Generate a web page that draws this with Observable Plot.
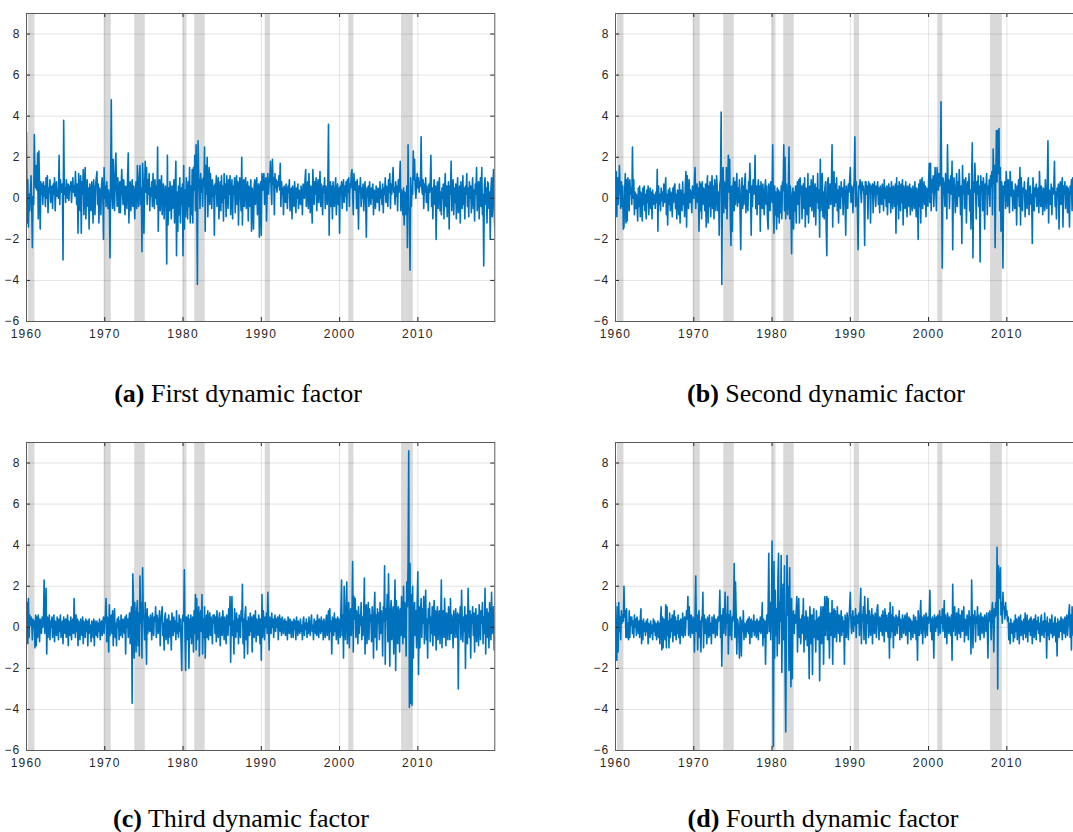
<!DOCTYPE html>
<html>
<head>
<meta charset="utf-8">
<script src="https://cdn.jsdelivr.net/npm/d3@7"></script>
<script src="https://cdn.jsdelivr.net/npm/@observablehq/plot@0.6"></script>
<style>
html, body { margin: 0; padding: 0; background: #fff; }
body { width: 1073px; height: 832px; overflow: hidden; position: relative; }
.panel { position: absolute; width: 500px; height: 340px; }
.panel svg { max-width: none !important; }
.panel svg text { letter-spacing: 1.2px; }
.cap { position: absolute; width: 420px; text-align: center; font-family: "Liberation Serif", "Times New Roman", serif; font-size: 26px; line-height: 26px; color: #000; white-space: nowrap; }
.cap b { font-weight: bold; }
</style>
</head>
<body>
<script>
const startYear = 1960;
const xDomainEnd = 2019.83;
const yearTicks = [1960, 1970, 1980, 1990, 2000, 2010];
const valueTicks = [-6, -4, -2, 0, 2, 4, 6, 8];
const recessionStart = [1960.25, 1969.92, 1973.83, 1980.0, 1981.5, 1990.5, 2001.17, 2007.92];
const recessionEnd   = [1961.08, 1970.83, 1975.17, 1980.5, 1982.83, 1991.17, 2001.83, 2009.42];
const captions = [["(a)", "First dynamic factor"], ["(b)", "Second dynamic factor"], ["(c)", "Third dynamic factor"], ["(d)", "Fourth dynamic factor"]];

const factor1 = [
3.2,-1.2,0.9,-1.4,0.2,-0.6,0.3,1.1,-0.4,-2.4,0.1,-0.3,
3.1,1.2,0.5,1.6,0.4,2.2,-1.0,2.3,0.6,-1.5,0.8,0.2,
0.7,-0.3,0.8,0.1,0.6,-0.4,1.0,0.0,1.1,-0.7,0.5,0.3,
0.9,-0.2,0.4,0.6,-0.5,0.7,0.2,1.0,-0.6,0.5,0.8,0.1,
0.4,0.0,2.1,-0.3,0.9,0.4,0.3,0.7,-3.0,3.8,0.2,0.5,
-0.2,0.9,0.5,0.0,0.7,-0.1,0.6,0.4,0.8,-0.2,0.5,1.0,
0.3,0.6,0.1,1.3,0.5,-0.3,0.7,-1.7,1.2,0.4,-0.6,1.1,
-1.7,0.8,0.2,1.4,-0.8,0.6,1.5,-1.0,0.3,0.9,-0.4,0.5,
-1.5,0.7,0.2,-0.6,0.8,0.4,-1.2,0.9,0.1,-0.8,0.6,1.0,
1.3,-0.3,0.7,-1.2,0.5,0.2,-0.8,0.6,1.0,0.3,-2.0,1.5,
0.0,0.6,-0.4,0.8,0.2,-0.5,0.4,-0.2,-2.9,1.0,4.8,0.2,
-0.5,1.9,0.3,-0.6,1.2,2.2,0.5,-0.4,1.0,0.2,-0.7,0.8,
-0.7,0.4,1.4,0.5,-0.3,0.9,0.2,-0.8,0.6,0.3,-0.5,1.0,
2.2,-1.2,0.4,0.8,-0.6,0.3,0.9,-0.4,0.6,0.2,-1.0,0.5,
0.8,-0.5,1.6,0.2,-0.4,1.0,1.6,-0.3,0.5,-2.6,1.7,0.6,
-1.7,0.4,1.8,0.3,1.5,-0.3,0.9,0.2,1.2,-0.6,0.5,0.1,
0.8,-0.4,1.2,0.3,-0.5,0.9,0.0,0.6,-0.3,2.5,-1.6,0.4,
0.9,-0.6,0.5,1.1,-0.8,0.3,0.7,-1.0,0.2,0.6,-0.4,-3.2,
2.1,-1.3,0.5,-0.6,0.8,0.0,-1.0,0.6,-0.5,0.2,0.9,-1.2,
0.4,1.8,-2.8,0.3,-1.6,0.6,-0.8,1.0,-1.2,0.5,-0.3,0.7,
-2.8,1.6,-1.5,0.4,-0.9,1.0,0.2,-1.0,0.8,-0.4,1.5,-1.2,
0.6,-0.8,1.4,-1.2,1.5,0.4,2.1,-0.6,2.6,0.2,-4.2,2.8,
1.0,0.8,-0.5,1.2,0.3,0.9,-0.4,1.0,0.6,2.5,-1.6,1.6,
0.2,2.0,-0.9,0.8,1.5,-0.3,1.2,0.4,-0.5,0.9,0.1,0.6,
-1.8,0.7,0.2,1.1,-0.4,0.5,1.0,-1.0,0.3,0.8,-0.6,1.1,
-0.2,0.6,-1.1,1.2,0.0,0.7,-0.9,1.1,0.3,-0.5,0.9,0.2,
1.1,-0.8,0.4,0.9,-1.0,0.6,0.2,1.0,-0.7,0.5,1.1,-0.3,
0.8,-1.3,0.4,1.0,0.2,-0.6,2.0,-1.3,0.5,0.9,-0.4,0.7,
1.0,-0.5,0.3,0.8,-1.1,0.6,0.1,-0.4,0.9,-1.6,0.5,0.2,
-1.5,0.6,0.9,-0.3,0.5,1.0,-0.8,0.4,0.7,-1.9,0.3,0.8,
-1.8,1.2,0.4,0.8,1.2,-0.3,0.6,1.0,-1.1,0.5,1.2,0.2,
0.8,1.0,1.8,0.4,-0.3,1.9,0.7,1.0,-0.8,1.2,0.5,0.9,
0.3,0.8,0.6,1.1,0.4,1.7,-0.4,0.8,0.2,0.5,-0.8,0.6,
0.4,-0.2,0.7,0.1,-0.5,0.6,0.3,0.9,-0.6,0.2,0.5,-1.0,
0.6,0.1,-0.4,0.8,0.2,-0.7,0.5,0.0,0.7,-0.5,0.4,0.2,
-0.3,0.6,0.2,-0.8,0.7,0.4,0.0,0.9,1.4,-0.4,0.3,0.8,
-0.5,1.2,0.3,-0.7,0.6,0.1,-1.2,1.4,0.5,-0.3,0.8,0.2,
1.0,-0.6,0.4,0.9,-0.2,0.5,1.3,-0.4,0.7,0.2,-0.8,0.6,
0.3,1.0,-0.5,0.6,0.1,-0.3,0.8,3.6,-1.8,0.5,0.8,-0.4,
0.6,-1.0,0.8,0.2,-0.4,0.5,1.0,-0.8,0.3,0.7,-0.3,0.5,
-1.7,0.6,0.2,0.8,-0.5,0.4,0.9,-0.2,0.6,0.1,0.8,-0.6,
0.9,0.3,1.0,-0.4,0.7,0.5,1.2,1.4,0.2,-0.8,1.2,0.6,
0.4,0.8,-0.5,0.9,0.2,-1.5,0.6,0.3,1.0,-0.4,0.5,0.0,
0.7,-0.6,0.3,0.8,-0.2,-1.9,0.5,0.1,0.6,-0.4,0.8,0.2,
-0.3,0.5,0.0,0.7,-0.8,0.4,0.2,-0.5,0.6,0.1,-0.2,0.5,
0.3,-0.6,0.8,0.0,0.4,-0.3,0.7,-0.7,0.5,0.2,1.0,-0.2,
0.6,0.1,-0.4,0.9,0.3,1.2,-0.5,0.7,0.2,0.8,1.5,0.3,
0.5,-0.3,0.8,0.1,0.6,-0.6,0.9,0.3,1.0,1.8,-0.6,0.4,
0.2,-0.8,0.5,-1.3,0.3,0.0,-0.8,0.6,-2.4,2.6,-0.5,-0.6,
-3.5,1.0,-0.4,0.6,0.2,2.3,0.9,1.9,0.4,0.0,0.8,1.2,
0.5,1.0,0.3,0.8,0.6,3.0,0.5,0.2,0.9,-0.5,0.7,0.3,
1.0,-0.2,0.6,0.1,-0.6,0.7,0.3,0.8,2.1,-0.4,0.5,-1.0,
0.4,0.9,-0.3,0.6,-2.0,0.2,0.8,-0.5,0.4,1.0,-0.6,0.3,
-0.8,0.5,0.0,0.7,-1.0,0.4,1.2,-0.4,0.6,-0.9,0.3,0.8,
-1.5,0.6,0.2,1.8,-0.6,0.3,0.9,-0.8,0.5,-0.2,0.7,-1.0,
0.4,1.0,-0.7,0.2,0.6,-1.2,0.8,0.1,-0.5,1.1,-0.3,0.5,
-1.0,0.6,0.2,1.2,-0.4,0.5,-0.9,0.8,0.0,0.6,-0.7,0.3,
1.0,-0.5,0.4,-1.1,0.7,0.2,1.5,-0.6,0.3,0.8,-1.0,0.5,
1.0,-0.4,1.5,-0.8,0.2,-3.3,0.6,1.0,-0.3,0.5,-1.2,0.8,
0.7,-0.5,0.3,-2.0,0.4,1.0,-0.9,0.5,1.4,-0.7,-1.5,-0.7
];

const factor2 = [
-0.3,1.3,-0.9,1.0,-0.3,0.5,1.6,0.5,-0.5,0.8,-0.4,0.6,
-1.5,-1.4,0.3,1.2,-1.2,0.9,-1.1,1.0,0.4,-0.6,0.9,0.2,
0.5,-0.3,2.5,0.0,0.9,-0.8,0.3,-0.5,0.2,-0.2,-1.1,0.5,
-0.4,0.6,-0.9,0.3,0.0,-1.1,0.5,-0.3,0.6,-0.6,0.2,-1.0,
0.4,-0.2,0.6,-0.8,0.1,0.5,-0.5,0.3,-1.0,0.4,-0.3,0.2,
0.0,-0.5,0.3,-0.2,1.4,-1.6,0.6,-0.3,0.2,-0.6,0.5,-0.1,
0.3,-0.4,0.7,-0.2,0.4,1.0,-0.8,0.2,-1.3,0.4,-0.3,0.5,
-0.6,0.3,0.1,-0.9,0.5,-0.2,0.6,0.7,-0.5,0.2,-1.0,0.4,
0.3,-0.8,0.7,-1.2,0.4,0.1,-0.6,0.8,-0.3,0.2,-0.9,0.6,
1.3,-1.4,1.1,0.2,-0.5,0.9,-0.2,0.4,0.0,-0.7,0.6,0.3,
0.0,0.8,1.5,-0.5,0.3,0.7,-0.2,0.5,-1.6,0.8,-0.6,0.7,
-1.0,0.8,-0.3,0.5,0.2,-0.6,0.7,-1.4,0.4,1.1,-1.2,0.6,
-0.4,0.8,-0.9,0.3,1.1,-0.5,0.6,-1.0,0.9,0.2,-0.6,1.1,
0.5,-0.6,0.3,-1.8,0.7,0.9,4.2,-4.2,1.0,1.5,-0.7,0.8,
0.4,-0.5,1.5,-1.0,0.6,2.1,0.3,1.9,-0.8,-2.3,0.6,-1.6,
0.4,1.0,-0.6,0.8,-0.3,0.6,1.2,-0.4,0.5,-0.2,0.9,-0.7,
-2.5,0.3,1.0,-0.5,0.6,-0.3,0.8,1.2,-0.7,0.4,0.2,-0.6,
0.8,0.3,1.7,0.5,-1.8,0.6,-0.4,0.9,0.2,0.5,2.1,-0.5,
0.6,-0.8,0.4,0.9,-0.3,0.6,-1.6,0.8,0.2,-0.5,0.7,0.0,
-0.8,0.5,0.9,-0.3,0.6,-1.0,-1.5,0.7,0.3,-0.6,0.8,0.4,
-0.2,2.6,-0.4,-1.7,0.6,-0.8,0.3,-1.5,0.5,-0.9,0.4,-1.2,
0.3,-0.7,0.6,-1.0,0.8,0.4,2.6,-0.6,2.0,-1.0,0.7,0.3,
-0.8,0.5,2.5,-1.0,0.6,-0.4,-2.7,0.2,0.5,-1.5,0.3,-0.6,
0.6,-1.2,0.4,0.8,-0.3,0.9,-1.2,1.0,0.2,0.6,-1.0,0.4,
0.7,-0.5,1.0,-1.4,0.5,0.3,-0.8,1.2,-1.2,0.4,0.6,-0.4,
0.9,-0.6,0.2,1.1,-0.9,0.4,0.7,-1.3,0.5,-0.2,1.2,-0.5,
0.4,-1.9,1.9,-0.6,0.9,1.2,-0.9,0.3,-1.0,0.5,0.8,-1.4,
-2.8,0.8,1.0,-0.5,0.4,0.7,-0.3,0.6,2.6,-1.4,0.9,1.3,
-0.4,0.7,-0.2,1.0,-0.6,0.4,-1.2,0.6,0.3,-0.5,0.8,0.1,
0.5,-0.8,0.4,0.9,-0.3,-1.8,0.6,0.2,-0.5,0.7,0.3,0.9,
1.5,-0.2,0.6,0.4,-0.7,0.5,0.9,3.0,-0.4,0.8,0.2,-0.6,
-2.5,0.6,0.5,0.9,0.3,-0.2,0.8,0.4,0.6,0.1,-2.3,0.8,
0.8,0.2,0.6,-1.0,0.8,0.4,0.7,-1.2,0.6,0.3,0.7,-0.7,
0.5,0.8,0.3,-0.4,0.6,0.2,0.8,-0.3,0.5,-0.7,0.6,0.1,
-0.3,0.7,0.2,-0.6,0.9,0.0,0.5,-0.4,0.6,-0.8,0.3,0.7,
-0.2,0.5,-0.7,0.8,0.1,-0.5,0.6,0.3,-0.4,0.7,-1.7,1.0,
-0.3,0.6,-1.0,0.8,0.2,-0.6,0.7,-0.2,0.9,-1.3,0.6,0.3,
-0.5,0.8,0.1,-0.9,0.6,0.4,-0.4,0.7,-0.8,0.5,0.2,-0.6,
0.6,0.3,-0.5,0.8,0.1,-0.9,0.5,0.2,-2.0,0.7,-0.4,0.9,
-1.2,0.6,1.0,-0.5,0.4,0.8,-0.3,0.6,-0.9,0.5,0.2,-0.4,
0.8,1.7,-0.2,1.7,-0.6,0.9,0.3,1.1,-0.4,0.6,1.5,0.4,
-0.6,1.5,0.9,0.4,1.2,0.6,0.8,4.7,0.3,-3.4,1.0,0.8,
0.5,-0.4,1.2,0.6,-1.0,2.6,0.3,0.9,-0.5,0.7,1.1,0.2,
1.8,-2.5,0.6,1.0,0.3,-0.7,0.5,1.2,-0.4,0.8,0.1,1.4,
0.4,-0.8,0.6,-2.2,1.6,0.2,0.9,-0.5,0.7,1.0,-1.2,0.5,
0.8,0.2,1.2,-0.6,0.4,-1.5,1.0,2.7,-2.9,0.8,0.3,1.7,
0.5,-1.0,0.8,0.2,1.1,-0.4,0.6,-3.1,1.1,0.4,0.8,-0.6,
1.0,0.3,-1.5,0.7,0.5,1.2,-0.8,0.6,0.2,0.9,-0.4,1.1,
0.6,1.3,-0.8,2.4,0.7,1.6,-2.4,1.0,3.3,0.8,3.3,1.2,
3.4,-0.6,1.5,-1.6,0.8,0.4,-3.4,0.6,0.2,0.8,-0.5,1.3,
0.6,-0.4,0.9,0.3,-0.7,1.3,0.5,0.1,0.8,-0.6,0.4,0.2,
-0.5,0.7,0.3,-1.3,0.6,0.1,0.9,-0.4,1.5,-1.3,1.0,0.2,
-0.6,0.5,0.3,0.8,-0.9,0.4,0.1,-0.5,0.7,1.0,-0.8,0.3,
0.6,-0.3,0.2,-2.2,1.0,0.4,-0.6,0.5,0.1,0.7,-0.4,0.3,
0.5,-0.7,1.3,0.2,-0.4,0.6,0.0,-0.8,0.5,0.3,-0.6,0.9,
0.2,-0.5,0.6,2.8,-1.2,0.4,0.1,-0.3,0.7,-0.8,0.5,0.2,
0.6,1.8,-0.4,0.3,-1.0,0.5,0.1,0.7,-1.5,0.4,0.8,-0.3,
0.4,1.0,-1.4,0.6,0.2,0.8,-0.5,0.3,0.6,-0.7,0.5,0.1,
-1.4,0.6,0.2,0.9,-0.6,1.0,0.3,-0.5,0.7,0.2,-0.3,0.6,
0.4,-0.8,1.0,0.2,-0.4,0.6,0.0,0.8,-0.6,0.3,0.5,-0.2
];

const factor3 = [
0.0,1.2,-0.8,1.4,-0.5,0.6,0.1,0.5,0.2,-0.6,0.4,0.0,
0.3,-1.0,0.6,-0.9,0.5,-0.5,0.6,0.2,-0.7,0.4,0.1,-0.3,
0.5,0.0,0.3,2.3,-0.3,0.4,1.9,-1.3,0.5,-0.5,0.2,0.6,
-0.6,0.3,0.0,0.5,-0.5,0.2,0.6,-0.7,0.3,0.1,-0.4,0.5,
0.2,-0.6,0.4,-0.2,0.6,-0.5,0.0,0.3,-0.8,0.5,0.1,-0.3,
0.4,-0.5,0.2,0.6,-0.9,0.3,0.0,-0.4,0.5,-0.6,0.2,0.4,
-0.3,1.4,0.2,-0.5,0.6,-0.2,0.4,-0.9,0.3,0.1,-0.6,0.4,
0.2,-0.4,0.5,-0.8,0.3,0.0,-0.5,0.4,-0.2,0.3,-0.9,0.2,
0.4,-0.3,0.1,-0.7,0.3,0.2,-0.5,0.4,-0.9,0.3,0.0,-0.4,
0.3,-0.5,0.2,-0.2,0.4,-0.6,0.1,0.3,-0.4,0.2,0.5,-0.3,
0.3,0.6,1.4,-0.7,0.5,0.2,-1.2,1.1,-0.4,0.3,0.6,-0.3,
0.8,-0.9,0.3,0.9,-0.5,0.2,-0.9,0.4,0.0,0.5,-0.6,0.3,
-0.4,0.6,0.1,-0.5,0.4,0.2,-0.3,0.5,-1.3,0.6,0.0,0.4,
-0.5,0.3,0.7,-0.8,0.5,1.0,-3.7,2.6,1.4,-1.5,1.2,0.3,
-1.2,0.8,1.3,-0.9,0.7,-1.4,2.5,0.2,1.2,-1.5,2.9,0.6,
0.4,-0.6,1.2,0.0,-1.8,0.9,-0.3,0.5,0.1,-0.2,0.6,0.3,
-0.6,0.7,0.2,-0.4,0.5,0.3,1.0,-0.5,0.6,0.2,-0.3,0.4,
0.8,-0.9,0.3,0.6,1.0,-0.4,0.2,-1.1,0.5,0.7,-0.6,0.1,
0.4,-0.8,0.6,0.0,-0.5,0.3,-1.1,0.7,0.2,-0.4,0.5,-0.2,
0.3,-0.6,0.8,-0.3,0.2,-0.5,0.6,-0.2,0.4,-0.8,-2.1,0.4,
0.6,0.3,2.8,-0.4,-2.1,0.5,-0.6,0.3,0.6,-2.0,0.4,-0.5,
0.6,-0.8,0.3,0.5,-1.2,0.8,-0.3,1.6,-1.1,1.4,-0.6,0.3,
1.0,-1.4,0.5,0.8,-0.2,1.6,-1.3,0.4,-0.5,1.0,-1.5,0.2,
0.6,-0.5,0.8,-0.6,0.3,0.7,-0.4,0.5,0.0,-0.8,0.6,0.2,
0.6,-0.3,0.5,-0.7,0.8,0.1,-0.5,0.4,0.7,-0.9,0.3,0.5,
-0.4,0.8,0.2,-0.6,0.5,0.0,-0.8,0.6,0.3,-0.4,0.9,0.1,
1.5,-1.7,0.6,1.5,-0.4,0.3,-1.3,0.9,0.2,-0.5,0.7,-0.2,
0.4,-0.8,0.6,0.1,-0.5,0.8,0.3,2.1,-0.8,0.4,-1.5,0.6,
1.0,-0.6,0.3,-1.3,0.5,0.2,-0.4,0.7,-0.2,0.5,-1.2,0.3,
0.6,-0.5,0.2,0.8,-0.7,0.4,0.0,-0.4,0.6,0.3,-0.8,0.4,
-1.6,1.6,-0.5,0.8,0.2,-0.6,0.5,0.0,0.7,-0.3,1.7,0.4,
-1.1,0.5,0.2,-0.3,0.7,0.0,0.4,-0.5,0.3,0.6,-0.2,0.4,
0.0,0.5,-0.6,0.3,0.6,-0.2,0.4,-0.4,0.5,0.2,-0.3,0.3,
0.4,-0.4,0.3,0.1,-0.6,0.5,0.2,-0.3,0.4,0.0,-0.5,0.3,
0.2,-0.5,0.4,-0.1,0.3,-0.6,0.5,0.1,-0.4,0.3,0.0,-0.3,
0.4,-0.2,0.1,-0.6,0.3,0.5,-0.4,0.2,-0.1,0.4,-0.5,0.2,
-0.3,0.5,0.0,-0.4,0.3,0.6,-0.2,0.1,-0.6,0.4,0.2,-0.3,
0.3,-0.4,0.6,0.0,-0.5,0.4,0.1,-0.3,0.5,-0.2,0.3,-0.6,
0.4,0.0,-0.5,0.3,0.6,-0.4,0.2,0.8,-0.6,0.9,-0.2,0.3,
-1.3,0.5,0.2,-0.4,0.7,-0.2,0.4,-0.6,0.3,0.5,-0.8,0.4,
0.2,-0.5,0.8,2.3,-0.4,0.6,-1.5,2.0,0.3,-0.6,1.0,2.2,
-0.8,0.6,1.2,-1.0,0.5,0.9,-0.4,0.6,3.2,-1.2,1.5,0.4,
1.4,-0.5,0.8,0.2,-0.8,1.0,-0.3,0.6,0.1,1.2,-0.6,0.5,
-0.4,0.8,2.4,-1.3,0.6,1.1,-0.8,0.5,1.2,-0.6,0.9,0.3,
0.6,-0.7,1.0,0.4,-1.5,0.8,1.7,-0.5,0.6,-1.1,0.9,0.2,
0.7,-0.6,1.2,-0.3,0.8,0.4,-1.4,1.0,0.3,3.0,-1.8,0.9,
0.4,1.6,-0.7,2.6,0.5,-1.9,0.8,1.3,-0.6,0.4,1.0,-1.3,
0.6,2.3,-2.1,1.3,0.2,-0.8,1.0,0.5,-1.2,0.9,-0.4,1.5,
0.3,-0.8,2.0,-0.5,1.2,0.8,-1.4,2.2,1.0,3.1,8.6,-3.9,
3.1,-3.7,1.6,-3.8,2.0,-1.5,0.6,1.2,-0.4,0.8,-1.0,1.3,
2.7,-2.3,1.0,-1.0,0.7,1.4,-0.5,0.9,0.2,1.5,-0.8,0.6,
1.8,-0.6,0.4,-1.5,0.9,0.2,1.2,-0.7,0.5,-0.3,1.0,-0.9,
0.6,1.3,-0.4,0.8,-1.1,0.5,1.0,-0.6,0.3,0.8,-0.8,0.4,
2.3,-1.0,0.6,0.8,-0.5,1.4,0.2,-0.9,0.7,0.4,-0.6,1.0,
0.4,-0.6,1.4,-0.3,0.6,0.1,-1.0,0.8,0.3,-0.5,0.9,0.2,
-0.5,0.7,-3.0,0.6,0.2,1.0,-0.6,1.8,0.3,-0.7,0.5,-0.2,
1.0,-2.0,0.6,0.3,-0.8,1.9,0.4,-0.5,0.8,-1.5,0.6,0.2,
1.0,-0.4,0.7,-1.2,0.5,0.9,-0.7,0.3,0.6,-0.9,1.1,0.4,
-0.6,0.8,0.2,1.2,-0.8,0.5,-0.3,1.9,-1.3,0.6,0.9,-0.5,
0.7,-1.0,1.2,0.2,-0.6,1.7,-0.3,0.5,1.0,-1.1,0.4,0.0
];

const factor4 = [
1.2,-1.6,-1.6,1.0,-1.2,1.2,-0.2,0.5,-0.6,0.8,0.2,0.6,
0.3,2.0,0.5,0.8,-0.5,0.9,-0.5,0.2,-0.6,0.8,-0.5,0.5,
0.1,0.5,-0.3,0.3,-0.5,0.6,0.0,0.4,-0.4,0.5,0.2,-0.3,
0.3,-0.5,0.4,0.9,-0.8,0.3,-0.6,0.4,-0.2,0.2,-0.4,0.3,
-0.2,0.4,-0.8,0.2,0.0,-0.5,0.3,-0.3,0.1,-0.6,0.4,-0.2,
0.3,-0.4,0.2,-0.6,0.0,0.3,-0.5,0.2,-0.8,0.4,1.0,-1.1,
0.5,-1.0,0.4,0.2,-0.6,1.1,-1.0,1.0,-0.4,0.3,-1.0,0.7,
-0.5,0.4,-0.2,0.6,-0.7,0.2,0.8,-0.4,0.5,-0.6,0.3,-0.3,
0.6,-0.5,0.3,-0.8,0.4,0.1,-0.4,0.7,-0.5,0.2,0.5,-0.4,
0.3,0.8,0.4,1.5,-0.4,1.0,0.2,-0.5,0.6,0.0,-0.3,0.5,
0.3,-1.2,0.6,2.5,-0.2,0.6,-1.1,0.4,0.8,-0.5,0.3,-1.2,
0.5,0.3,1.7,-1.0,0.6,-0.3,0.4,0.1,-0.8,0.5,0.3,-0.5,
0.6,-0.4,0.2,-0.8,0.5,0.0,-0.3,0.6,0.2,-0.5,0.4,0.1,
-0.4,0.5,0.3,0.6,1.8,-0.5,0.6,-1.9,0.2,0.9,-0.3,0.5,
1.7,-0.4,0.6,0.2,1.5,-1.3,0.6,-0.4,0.8,0.0,-0.6,0.5,
0.3,0.8,3.1,-0.5,2.2,0.6,-1.3,0.4,0.2,-0.3,-1.5,0.5,
0.4,-1.4,0.3,-0.2,0.8,-0.6,0.2,0.0,-0.5,0.3,-0.2,0.4,
-0.3,0.5,-0.8,0.2,0.4,-0.5,0.3,-0.2,0.6,-0.4,0.2,0.3,
-0.5,0.4,0.1,-0.6,0.3,-0.2,0.5,-0.3,0.2,1.2,-0.9,0.4,
-0.5,0.3,-1.8,0.0,0.6,-0.3,0.9,3.6,-0.2,1.2,-0.6,0.4,
4.2,0.5,-5.8,3.2,-1.5,1.8,-0.4,0.9,-1.4,2.4,3.6,-0.8,
1.2,0.3,3.5,-2.2,0.8,2.1,-0.6,3.0,-2.0,-5.1,0.4,3.5,
0.6,2.0,-2.1,2.9,-0.5,-2.9,1.4,-2.5,0.5,0.8,-0.3,0.6,
0.2,0.8,1.5,-1.2,0.6,1.4,-0.5,0.4,-0.8,0.2,0.6,-0.3,
1.4,-1.2,0.5,-0.6,0.8,0.2,-0.9,0.5,-0.3,-2.5,1.0,0.2,
-0.8,0.6,-2.3,0.4,0.9,-0.5,0.3,-1.2,0.8,0.1,-0.6,0.4,
0.5,-2.6,0.5,1.0,-0.8,0.3,1.0,-1.8,0.6,1.5,-0.4,0.8,
1.5,-0.6,1.4,0.2,-1.5,0.7,0.3,-0.4,1.3,-1.8,0.6,0.9,
-0.5,0.8,0.2,-0.7,1.0,0.4,-0.3,0.6,-0.7,0.2,0.8,-0.4,
0.5,-0.2,0.3,-1.8,0.6,0.1,-0.5,0.7,0.3,-0.6,0.4,1.0,
1.7,0.2,-0.3,0.4,0.8,-0.2,0.5,0.1,0.9,-0.5,0.6,0.3,
0.2,0.7,-0.4,1.0,1.9,-0.8,0.6,0.3,1.0,-0.6,1.5,0.4,
-0.8,0.6,0.2,1.4,-0.5,0.8,0.3,-0.4,0.5,0.9,-0.8,0.6,
0.2,-0.3,0.7,0.4,-0.5,0.9,1.1,0.1,-0.6,0.5,0.3,-0.2,
0.6,-0.4,0.8,0.2,-0.7,0.9,0.4,-0.2,0.6,0.0,-0.5,0.7,
-1.5,1.2,-0.5,0.6,-0.2,1.0,-1.0,0.5,0.2,-0.4,0.6,0.3,
-0.3,0.5,0.1,0.8,-0.6,0.4,0.0,-0.5,0.6,0.2,-0.3,0.4,
0.6,-0.4,0.2,0.7,-0.8,0.3,0.5,-0.2,0.4,-0.6,0.3,0.1,
-0.5,0.6,0.2,-0.3,0.5,-0.6,0.3,-1.6,0.8,0.1,-0.4,0.6,
1.3,-0.3,0.5,-0.8,0.2,0.6,0.0,-0.5,0.7,0.3,-0.4,0.5,
0.2,0.6,1.8,-0.2,0.4,-0.6,0.5,0.1,-1.5,0.6,0.3,-0.2,
0.5,0.0,0.6,-0.4,0.3,0.8,-0.3,0.5,0.2,0.9,-0.2,0.4,
1.3,-0.5,0.6,0.2,-0.8,0.7,0.4,-0.3,0.5,0.1,-0.4,0.6,
-1.6,2.1,-0.2,0.5,1.0,-0.4,0.3,0.7,-0.6,0.4,0.9,-0.3,
0.6,-0.5,0.3,0.8,-0.2,0.5,1.0,-0.7,0.4,0.2,-0.4,0.6,
0.3,-0.6,0.8,0.1,0.5,-1.3,2.3,0.4,-1.0,0.6,0.2,0.8,
-0.7,0.5,0.2,1.0,-0.4,0.6,0.1,-0.6,0.7,0.3,-0.3,0.5,
0.4,-0.5,0.6,0.2,-0.2,0.7,0.0,-1.5,0.7,0.3,0.8,0.4,
-0.6,0.8,1.2,0.3,-1.2,0.9,0.5,1.2,0.6,3.9,-3.0,3.0,
1.4,2.0,2.9,0.6,1.2,0.2,1.7,0.9,1.0,0.4,1.2,0.6,
0.8,0.3,0.5,-0.6,0.2,-0.8,0.4,0.0,-0.3,0.2,-0.7,0.3,
-0.5,0.6,-0.2,0.4,-0.6,0.1,0.5,-0.8,0.2,0.6,-0.4,0.3,
0.2,-0.6,0.4,-0.3,0.7,-0.5,0.1,0.6,-0.7,0.3,-0.2,0.4,
-0.4,0.5,0.1,-0.8,0.3,0.4,-0.5,0.2,0.6,-0.6,0.3,-0.1,
0.5,-0.3,0.2,-0.7,0.4,0.6,-0.4,0.0,0.3,-0.5,0.7,-0.2,
0.3,-1.5,0.5,-0.4,0.2,-0.6,0.4,0.1,-0.3,0.6,-0.5,0.2,
-0.4,0.3,0.5,-0.7,0.2,-1.4,0.4,0.1,-0.5,0.3,-0.2,0.5,
0.2,-0.6,0.4,0.0,-0.3,0.5,-0.5,0.2,0.6,-0.4,0.1,0.7,
1.1,-0.5,0.6,-1.1,1.0,0.3,-0.4,0.8,0.0,-0.6,0.5,0.2,
-0.3,0.6,-0.5,0.4,0.1,-0.6,0.8,-0.2,0.5,-0.4,0.3,0.0
];

const factors = [factor1, factor2, factor3, factor4];
const recessions = recessionStart.map((s, i) => ({start: s, end: recessionEnd[i]}));

const plotW = 468.3, plotH = 308;
const mL = 26, mT = 13, svgW = 500, svgH = 340;
const panelPos = [[0, 0], [589, 0], [0, 429], [589, 429]];
const capPos = [[238 - 210, 381], [826 - 210, 381], [241 - 210, 806], [823 - 210, 806]];

factors.forEach((vals, k) => {
  const series = vals.map((v, i) => ({t: startYear + i / 12, v}));
  const chart = Plot.plot({
    width: svgW, height: svgH,
    marginLeft: mL, marginTop: mT,
    marginRight: svgW - mL - plotW, marginBottom: svgH - mT - plotH,
    style: {fontFamily: "'Liberation Sans', Arial, sans-serif", fontSize: "12px", color: "#262626", background: "transparent", overflow: "visible", maxWidth: "none"},
    x: {domain: [startYear, xDomainEnd], label: null},
    y: {domain: [-6, 9], label: null},
    marks: [
      Plot.rect(recessions, {x1: "start", x2: "end", fill: "#d9d9d9"}),
      Plot.gridX(yearTicks.slice(1), {stroke: "#000", strokeOpacity: 0.11}),
      Plot.gridY(valueTicks.slice(1), {stroke: "#000", strokeOpacity: 0.11}),
      Plot.line(series, {x: "t", y: "v", stroke: "#0072BD", strokeWidth: 1.6, strokeLinejoin: "round", clip: true}),
      Plot.ruleX(yearTicks, {stroke: "#262626", insetTop: plotH - 4}),
      Plot.ruleX(yearTicks, {stroke: "#262626", insetBottom: plotH - 4}),
      Plot.ruleY(valueTicks, {stroke: "#262626", insetRight: plotW - 4}),
      Plot.ruleY(valueTicks, {stroke: "#262626", insetLeft: plotW - 4}),
      Plot.frame({stroke: "#5a5a5a", strokeWidth: 1}),
      Plot.axisX(yearTicks, {tickSize: 0, tickPadding: 8, tickFormat: d => String(d), label: null}),
      Plot.axisY(valueTicks, {tickSize: 0, tickPadding: 6, label: null})
    ]
  });
  const wrap = document.createElement("div");
  wrap.className = "panel";
  wrap.style.left = panelPos[k][0] + "px";
  wrap.style.top = panelPos[k][1] + "px";
  wrap.appendChild(chart);
  document.body.appendChild(wrap);

  const cap = document.createElement("div");
  cap.className = "cap";
  cap.style.left = capPos[k][0] + "px";
  cap.style.top = capPos[k][1] + "px";
  const b = document.createElement("b");
  b.textContent = captions[k][0];
  cap.appendChild(b);
  cap.appendChild(document.createTextNode(" " + captions[k][1]));
  document.body.appendChild(cap);
});
</script>
</body>
</html>
